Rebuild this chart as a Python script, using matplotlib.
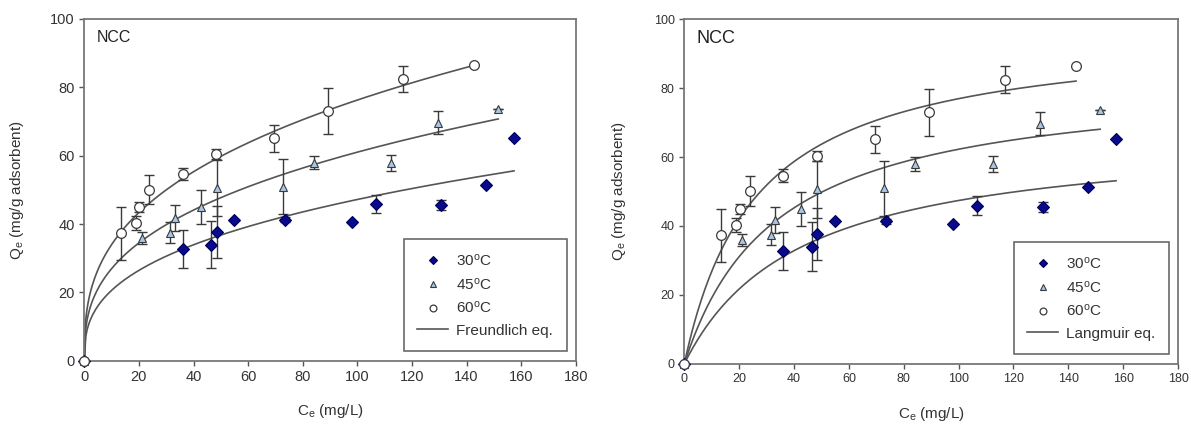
#!/usr/bin/env python

import numpy as np
import matplotlib
matplotlib.use("Agg")
import matplotlib.pyplot as plt
from matplotlib.lines import Line2D

plt.rcParams["font.family"] = ["Liberation Sans", "DejaVu Sans"]
plt.rcParams["mathtext.fontset"] = "custom"
plt.rcParams["mathtext.rm"] = "Liberation Sans"
plt.rcParams["mathtext.it"] = "Liberation Sans:italic"

# datos (Ce en mg/L, Qe en mg/g)
c30 = [0, 36.0, 46.5, 48.5, 55.0, 73.4, 98.0, 106.8, 130.8, 147.3, 157.4]
q30 = [0, 32.7, 34.0, 37.6, 41.3, 41.3, 40.6, 45.9, 45.5, 51.4, 65.1]
e30 = [0, 5.6, 7.0, 7.6, 0, 0.8, 0, 2.7, 1.5, 0, 0]

c45 = [0, 21.1, 31.5, 33.1, 42.6, 48.5, 72.8, 84.1, 112.5, 129.6, 151.6]
q45 = [0, 35.9, 37.5, 41.7, 44.9, 50.6, 50.9, 58.0, 57.9, 69.7, 73.8]
e45 = [0, 1.8, 3.0, 3.8, 5.0, 8.2, 8.0, 2.0, 2.3, 3.4, 0]

c60 = [0, 13.3, 19.0, 20.2, 23.8, 36.0, 48.3, 69.5, 89.2, 116.9, 142.8]
q60 = [0, 37.3, 40.2, 45.0, 50.1, 54.6, 60.4, 65.1, 73.0, 82.4, 86.5]
e60 = [0, 7.7, 2.0, 1.4, 4.3, 1.8, 1.5, 4.0, 6.8, 3.9, 0]

# parametros de los ajustes (30, 45, 60 C)
freundlich_k = [8.99, 11.9, 15.15]
freundlich_inv_n = [0.36, 0.355, 0.351]
langmuir_qmax = [67.3, 83.1, 97.1]
langmuir_kl = [0.0238, 0.0299, 0.0382]

labels = ["30$^{\\mathrm{o}}$C", "45$^{\\mathrm{o}}$C", "60$^{\\mathrm{o}}$C"]
x_ticks = [0, 20, 40, 60, 80, 100, 120, 140, 160, 180]
y_ticks = [0, 20, 40, 60, 80, 100]

GRIS = "#555555"
TXT = "#333333"
estilos = [
    dict(marker="D", ms=6.2, mfc="#0a0a8c", mec="#00005a", mew=0.8),
    dict(marker="^", ms=6.4, mfc="#a9c6e6", mec="#3a3a3a", mew=0.8),
    dict(marker="o", ms=7.0, mfc="white", mec="#3a3a3a", mew=0.9),
]


def freundlich(c, k, inv_n):
    return k * c ** inv_n


def langmuir(c, qmax, kl):
    return qmax * kl * c / (1 + kl * c)


def panel(ax, modelo, params, nombre, fs_tick, fs_ncc, ylab_x):
    series = [(c30, q30, e30), (c45, q45, e45), (c60, q60, e60)]
    for (c, q, e), (p1, p2) in zip(series, params):
        cc = np.linspace(0, max(c), 300)
        ax.plot(cc, modelo(cc, p1, p2), color=GRIS, lw=1.2, zorder=2)
    for (c, q, e), st in zip(series, estilos):
        ax.errorbar(c, q, yerr=e, fmt="none", ecolor="#3a3a3a", elinewidth=1,
                    capsize=3.5, capthick=1, zorder=3)
        ax.plot(c, q, ls="none", zorder=4, clip_on=False, **st)

    ax.set_xlim(0, 180)
    ax.set_ylim(0, 100)
    ax.set_xticks(x_ticks)
    ax.set_yticks(y_ticks)
    ax.tick_params(direction="out", length=3.5, width=1, color="#555555",
                   labelsize=fs_tick, labelcolor=TXT)
    for s in ax.spines.values():
        s.set_color("#777777")
        s.set_linewidth(1.3)

    ax.set_xlabel("C$_{\\mathrm{e}}$ (mg/L)", fontsize=11, color=TXT)
    ax.set_ylabel("Q$_{\\mathrm{e}}$ (mg/g adsorbent)", fontsize=11, color=TXT)
    ax.xaxis.set_label_coords(0.5, -0.12)
    ax.yaxis.set_label_coords(ylab_x, 0.5)
    ax.text(0.025, 0.945, "NCC", transform=ax.transAxes, fontsize=fs_ncc,
            color="#222222", va="center", ha="left")

    handles = [Line2D([], [], ls="none", **st) for st in estilos]
    handles.append(Line2D([], [], color=GRIS, lw=1.2))
    leg = ax.legend(handles, labels + [nombre], loc="lower right",
                    bbox_to_anchor=(0.982, 0.027), fontsize=11,
                    frameon=True, fancybox=False, edgecolor="#444444",
                    markerscale=0.7, handlelength=2.0, handletextpad=0.55,
                    labelspacing=0.5, borderpad=0.9, borderaxespad=0)
    leg.get_frame().set_linewidth(1.2)
    for t in leg.get_texts():
        t.set_color(TXT)


def main():
    fig = plt.figure(figsize=(11.91, 4.24), dpi=100)
    ax1 = fig.add_axes([0.0708, 0.1493, 0.4126, 0.8059])
    ax2 = fig.add_axes([0.5746, 0.1422, 0.4145, 0.8123])

    panel(ax1, freundlich, list(zip(freundlich_k, freundlich_inv_n)),
          "Freundlich eq.", 10.5, 11.5, -0.118)
    panel(ax2, langmuir, list(zip(langmuir_qmax, langmuir_kl)),
          "Langmuir eq.", 9, 13, -0.115)

    fig.savefig("out.png", dpi=100)


if __name__ == "__main__":
    main()
